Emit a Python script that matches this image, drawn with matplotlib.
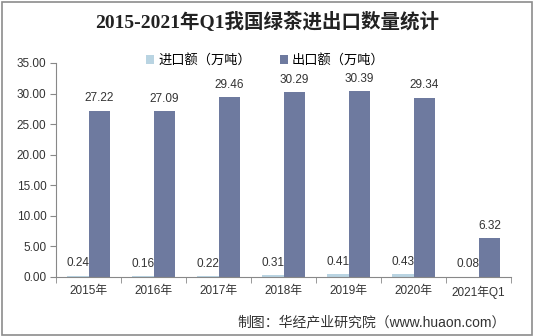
import matplotlib
matplotlib.use("Agg")
import matplotlib.pyplot as plt
import numpy as np
from matplotlib.patches import Rectangle

plt.rcParams['font.family'] = ['Liberation Sans', 'Noto Sans CJK SC', 'DejaVu Sans']

categories = ['2015年', '2016年', '2017年', '2018年', '2019年', '2020年', '2021年Q1']
imports = [0.24, 0.16, 0.22, 0.31, 0.41, 0.43, 0.08]
exports = [27.22, 27.09, 29.46, 30.29, 30.39, 29.34, 6.32]
yticks = [0, 5, 10, 15, 20, 25, 30, 35]

fig = plt.figure(figsize=(5.34, 3.36), dpi=100)
fig.patch.set_facecolor('white')
fig.patches.append(Rectangle((0.004, 0.004), 0.992, 0.99, transform=fig.transFigure,
                             fill=False, edgecolor='#8c8c8c', linewidth=1.2))
ax = fig.add_axes([0.105, 0.1756, 0.852, 0.637])

x = np.arange(len(categories))
w = 0.335
b1 = ax.bar(x - w / 2, imports, w, color='#b9d4e2', label='进口额（万吨）')
b2 = ax.bar(x + w / 2, exports, w, color='#6e7a9f', label='出口额（万吨）')

for xi, v in zip(x, imports):
    ax.text(xi - w / 2, v + 1.0, f'{v:.2f}', ha='center', va='bottom', fontsize=8.5, color='#333333')
for xi, v in zip(x, exports):
    ax.text(xi + w / 2, v + 1.0, f'{v:.2f}', ha='center', va='bottom', fontsize=8.5, color='#333333')

ax.set_xlim(-0.5, len(categories) - 0.5)
ax.set_ylim(0, 35)
ax.set_yticks(yticks)
ax.set_yticklabels([f'{t:.2f}' for t in yticks], fontsize=8.5, color='#333333')
ax.set_xticks(x)
ax.set_xticklabels(categories, fontsize=8.5, color='#333333')
ax.set_xticks(np.arange(-0.5, len(categories)), minor=True)
ax.tick_params(axis='x', which='major', length=0, pad=6)
ax.tick_params(axis='x', which='minor', length=4, color='#888888')
ax.tick_params(axis='y', length=4, color='#888888', pad=3)
for s in ['top', 'right']:
    ax.spines[s].set_visible(False)
ax.spines['left'].set_color('#888888')
ax.spines['bottom'].set_color('#888888')

leg = ax.legend(loc='lower center', bbox_to_anchor=(0.46, 0.955), ncol=2, frameon=False,
                fontsize=9.5, handlelength=0.6, handleheight=0.6, handletextpad=0.3,
                columnspacing=2.2, borderaxespad=0)

fig.text(0.5, 0.935, '2015-2021年Q1我国绿茶进出口数量统计', ha='center', va='center',
         fontsize=14, fontweight='bold', color='#222222',
         family=['Liberation Serif', 'Noto Sans CJK SC'])
fig.text(0.948, 0.04, '制图：华经产业研究院（www.huaon.com）', ha='right', va='center',
         fontsize=10, color='#333333')

fig.savefig('out.png', dpi=100)
